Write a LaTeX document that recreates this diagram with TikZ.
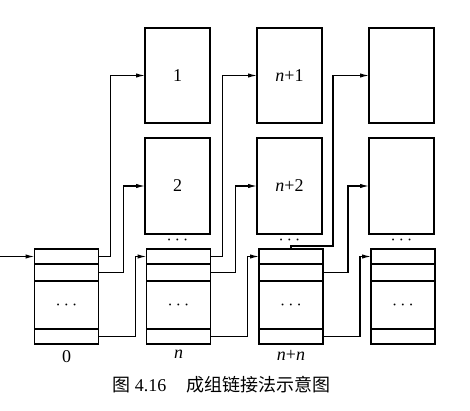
\documentclass[tikz,border=0pt]{standalone}
\usepackage{fontspec}
\setmainfont{Liberation Serif}
\newfontfamily\cjk{Noto Sans CJK SC}
\usetikzlibrary{arrows.meta,positioning}

\begin{document}
\begin{tikzpicture}[
    x=0.5pt, y=-0.5pt,
    blk/.style={draw, line width=0.9pt, minimum width=32pt, inner sep=0pt, outer sep=0pt, font=\small},
    slot/.style={blk, minimum height=#1},
    page/.style={blk, minimum width=32.5pt, minimum height=47.5pt},
    link/.style={line width=0.6pt, -{Latex[length=4.5pt,width=2.2pt]}},
    lbl/.style={font=\small, inner sep=1pt},
]
\useasboundingbox (0,0) rectangle (470,411);

% --- Index blocks (bottom row) ---
\foreach \i/\x in {0/66.5, 1/178.5, 2/291, 3/403} {
    \node[slot=7.5pt, anchor=north] (a\i) at (\x,249) {};
    \node[slot=8.5pt, below=0pt of a\i] (b\i) {};
    \node[slot=24pt, below=0pt of b\i] (m\i) {$\cdots$};
    \node[slot=7.5pt, below=0pt of m\i] (z\i) {};
}
\node[lbl, below=2pt of z0] (l0) {0};
\node[lbl, below=2pt of z1] (l1) {\textit{n}};
\node[lbl, below=2pt of z2] (l2) {\textit{n}+\textit{n}};

% --- Data blocks (two upper rows) ---
\node[page, anchor=north] (t11) at (177.5,28) {1};
\node[page, anchor=north, minimum height=48pt] (t12) at (177.5,138) {2};
\node[page, anchor=north] (t21) at (289.5,28) {\textit{n}+1};
\node[page, anchor=north, minimum height=48pt] (t22) at (289.5,138) {\textit{n}+2};
\node[page, anchor=north] (t31) at (401.5,28) {};
\node[page, anchor=north, minimum height=48pt] (t32) at (401.5,138) {};
\foreach \j/\x in {1/177.5, 2/289.5, 3/401.5} {
    \node[lbl] (dots\j) at (\x,240) {$\cdots$};
}

% --- Links ---
\coordinate (in) at (0,256.5);
\draw[link] (in) -- (a0.west);
\foreach \i [count=\j from 1] in {0,1,2} {
    \draw[link] (z\i.east) -- ++(37,0) |- (a\j.west);
    \draw[link] (b\i.east) -- ++(25,0) |- (t\j2.west);
}
\foreach \i [count=\j from 1] in {0,1} {
    \draw[link] (a\i.east) -- ++(12,0) |- (t\j1.west);
}
\draw[link] (a2.north) -- ++(0,-3) -- ++(42,0) |- (t31.west);

% --- Caption ---
\node[anchor=west, font=\small, inner sep=0pt] (cap) at (112,385)
    {{\cjk 图} 4.16\hspace{10pt}{\cjk 成组链接法示意图}};

\end{tikzpicture}
\end{document}
